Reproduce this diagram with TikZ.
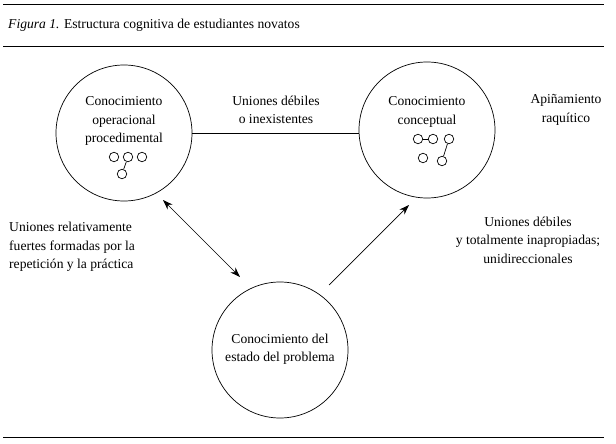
\documentclass[tikz,border=0pt]{standalone}
\usepackage{fontspec}
\setmainfont{Liberation Serif}
\usetikzlibrary{arrows.meta}
\begin{document}
\begin{tikzpicture}[x=1pt,y=-1pt,
  big/.style={draw,circle,minimum size=136pt,inner sep=0pt,line width=0.7pt},
  lbl/.style={align=center,font=\fontsize{13.6}{18.5}\selectfont,inner sep=0pt},
  dot/.style={draw,circle,minimum size=9.5pt,inner sep=0pt,line width=0.7pt},
  rule/.style={line width=0.9pt},
  conn/.style={line width=0.7pt},
  tip/.style={-{Stealth[length=10pt,width=7pt]}}]
\useasboundingbox (0,0) rectangle (616,444);
\draw[rule] (3,4) -- (604,4);
\draw[rule] (3,46) -- (604,46);
\draw[rule] (3,437) -- (604,437);
\node[anchor=west,font=\fontsize{13.6}{16}\selectfont,inner sep=0pt] (cap) at (8,25) {\textit{Figura 1.} Estructura cognitiva de estudiantes novatos};
% circles
\node[big] (L) at (124,133) {};
\node[big] (R) at (427,130) {};
\node[big] (B) at (280,350) {};
\node[lbl] (Lt) at (124,121) {Conocimiento\\operacional\\procedimental};
\node[lbl] (Rt) at (427,112) {Conocimiento\\conceptual};
\node[lbl] (Bt) at (280,349) {Conocimiento del\\estado del problema};
% small dots left
\node[dot] (l1) at (114,157) {};
\node[dot] (l2) at (128,157) {};
\node[dot] (l3) at (142,157) {};
\node[dot] (l4) at (122,174) {};
\draw[conn] (l2) -- (l4);
% small dots right
\node[dot] (r1) at (418,139) {};
\node[dot] (r2) at (433,139) {};
\node[dot] (r3) at (449,139) {};
\node[dot] (r4) at (423,158) {};
\node[dot] (r5) at (442,161) {};
\draw[conn] (r1) -- (r2);
\draw[conn] (r3) -- (r5);
% connectors
\draw[conn] (L.east) -- (R.west |- L.east);
\coordinate (a1) at (163,200);
\coordinate (a2) at (240,277);
\coordinate (b1) at (329,285);
\coordinate (b2) at (409,205);
\draw[conn,{Stealth[length=10pt,width=7pt]}-{Stealth[length=10pt,width=7pt]}] (a1) -- (a2);
\draw[conn,tip] (b1) -- (b2);
% labels
\node[lbl] (t1) at (276,110) {Uniones débiles\\o inexistentes};
\node[lbl] (t2) at (566,110) {Apiñamiento\\raquítico};
\node[lbl,align=left,anchor=west] (t3) at (9,247) {Uniones relativamente\\fuertes formadas por la\\repetición y la práctica};
\node[lbl] (t4) at (528,240) {Uniones débiles\\y totalmente inapropiadas;\\unidireccionales};
\end{tikzpicture}
\end{document}
